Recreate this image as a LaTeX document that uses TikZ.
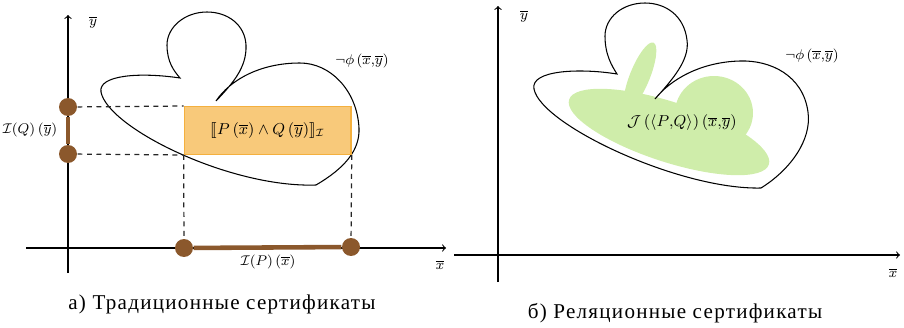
\documentclass[tikz,border=0pt]{standalone}
\usepackage{amsmath,amssymb,stmaryrd}
\usepackage{fontspec}
\newfontfamily\capfont[LetterSpace=6]{Liberation Serif}
\usetikzlibrary{positioning,calc}
\definecolor{certbrown}{RGB}{139,88,44}
\definecolor{certorange}{RGB}{248,201,122}
\definecolor{certorangeline}{RGB}{244,176,62}
\definecolor{certgreen}{RGB}{207,237,170}
\tikzset{
  every picture/.style={line width=0.6pt},
  saxis/.style={->},
  sdot/.style={circle, fill=certbrown, inner sep=0pt, minimum size=0.36cm},
  sinterval/.style={certbrown, line width=2.6pt},
  sproj/.style={draw=black!85, line width=0.7pt, dash pattern=on 2.8pt off 2.6pt},
  sregion/.style={fill=certorange, draw=certorangeline, line width=0.8pt},
  sjust/.style={fill=certgreen},
  slabel/.style={font=\footnotesize, inner sep=1pt},
  sbig/.style={font=\fontsize{8.6}{10}\selectfont, inner sep=1pt},
  scaption/.style={font=\capfont\fontsize{12}{14}\selectfont},
}

\begin{document}
\begin{tikzpicture}[x=0.02cm, y=-0.02cm]
  \useasboundingbox (0,0) rectangle (904,328);

  % --- a) traditional certificates
  \coordinate (xaL0) at (26,248);
  \coordinate (xaL1) at (446,248);
  \coordinate (yaL0) at (68,273);
  \coordinate (yaL1) at (68,15);
  \draw[saxis] (xaL0) -- (xaL1);
  \draw[saxis] (yaL0) -- (yaL1);
  \node[slabel] (xlabL) at (440,265) {$\overline{x}$};
  \node[slabel] (ylabL) at (93,22) {$\overline{y}$};

  \draw (180,78) .. controls (140,72) and (98,75) .. (101,92)
    .. controls (108,128) and (230,188) .. (316,185)
    .. controls (345,168) and (360,150) .. (359,128)
    .. controls (357,90) and (330,63) .. (300,63)
    .. controls (260,63) and (230,80) .. (216,101)
    .. controls (232,84) and (247,68) .. (246,45)
    .. controls (245,25) and (228,12) .. (207,12)
    .. controls (185,12) and (167,27) .. (167,45)
    .. controls (167,62) and (174,71) .. cycle;
  \node[slabel] (phiL) at (362,61) {$\neg\phi\left(\overline{x}{,}\overline{y}\right)$};

  \node[sregion, sbig, minimum width=3.334cm, minimum height=0.952cm]
    (certbox) at (267.7,130.5)
    {$\llbracket P\left(\overline{x}\right)\wedge Q\left(\overline{y}\right)\rrbracket_{\mathcal{I}}$};

  \node[sdot] (qtop) at (68,107) {};
  \node[sdot] (qbot) at (68,154) {};
  \node[sdot] (pleft) at (184,248) {};
  \node[sdot] (pright) at (351,247) {};
  \draw[sproj] (qtop) -- (certbox.north west);
  \draw[sproj] (qbot) -- (certbox.south west);
  \draw[sproj] (certbox.south west) -- (pleft);
  \draw[sproj] (certbox.south east) -- (pright);
  \draw[sinterval] (qtop) -- (qbot);
  \draw[sinterval] (pleft) -- (pright);
  \node[slabel] (qlab) at (30,130) {$\mathcal{I}(Q)\left(\overline{y}\right)$};
  \node[slabel] (plab) at (268,262) {$\mathcal{I}(P)\left(\overline{x}\right)$};

  \node[scaption] (capL) at (222,304) {а) Традиционные сертификаты};

  % --- b) relational certificates
  \coordinate (xaR0) at (454,255);
  \coordinate (xaR1) at (900,255);
  \coordinate (yaR0) at (498,282);
  \coordinate (yaR1) at (498,6);
  \draw[saxis] (xaR0) -- (xaR1);
  \draw[saxis] (yaR0) -- (yaR1);
  \node[slabel] (xlabR) at (893,273) {$\overline{x}$};
  \node[slabel] (ylabR) at (524,16) {$\overline{y}$};

  \fill[sjust, shift={(640,76)}, rotate=68] (0,0) ellipse [x radius=36, y radius=10];
  \fill[sjust] (714,113) ellipse [x radius=39, y radius=37];
  \fill[sjust, shift={(669,132)}, rotate=-18] (0,0) ellipse [x radius=105, y radius=30];

  \draw (617,74) .. controls (580,68) and (530,70) .. (534,89)
    .. controls (541,125) and (680,190) .. (761,188)
    .. controls (790,170) and (812,140) .. (808,112)
    .. controls (803,75) and (770,60) .. (740,61)
    .. controls (700,62) and (670,80) .. (655,99)
    .. controls (672,80) and (690,60) .. (687,40)
    .. controls (684,15) and (665,3) .. (645,3)
    .. controls (622,3) and (605,18) .. (605,36)
    .. controls (605,55) and (612,66) .. cycle;
  \node[slabel] (phiR) at (812,56) {$\neg\phi\left(\overline{x}{,}\overline{y}\right)$};
  \node[sbig] (jlab) at (682,123)
    {$\mathcal{J}\left(\langle P{,}Q\rangle\right)\left(\overline{x}{,}\overline{y}\right)$};

  \node[scaption] (capR) at (675,313) {б) Реляционные сертификаты};
\end{tikzpicture}
\end{document}
